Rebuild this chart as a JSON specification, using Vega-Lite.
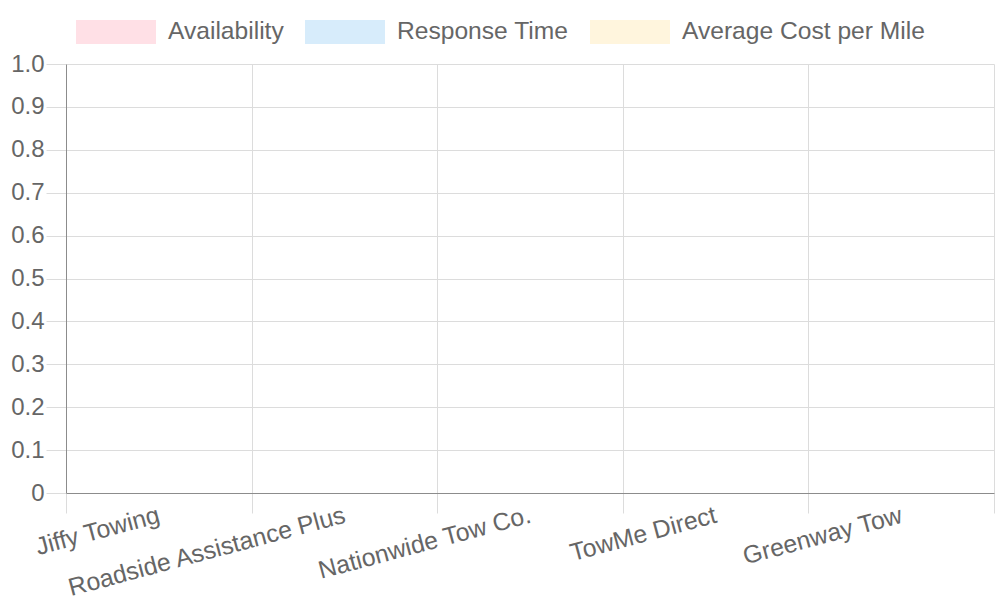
{
  "$schema": "https://vega.github.io/schema/vega-lite/v6.json",
  "autosize": "none",
  "width": 928,
  "height": 429,
  "padding": {"left": 66, "top": 64, "right": 6, "bottom": 107},
  "background": "white",
  "config": {
    "view": {"stroke": null},
    "font": "Liberation Sans"
  },
  "data": {
    "values": [
      {"provider": "Jiffy Towing", "metric": "Availability", "value": null},
      {"provider": "Jiffy Towing", "metric": "Response Time", "value": null},
      {"provider": "Jiffy Towing", "metric": "Average Cost per Mile", "value": null},
      {"provider": "Roadside Assistance Plus", "metric": "Availability", "value": null},
      {"provider": "Roadside Assistance Plus", "metric": "Response Time", "value": null},
      {"provider": "Roadside Assistance Plus", "metric": "Average Cost per Mile", "value": null},
      {"provider": "Nationwide Tow Co.", "metric": "Availability", "value": null},
      {"provider": "Nationwide Tow Co.", "metric": "Response Time", "value": null},
      {"provider": "Nationwide Tow Co.", "metric": "Average Cost per Mile", "value": null},
      {"provider": "TowMe Direct", "metric": "Availability", "value": null},
      {"provider": "TowMe Direct", "metric": "Response Time", "value": null},
      {"provider": "TowMe Direct", "metric": "Average Cost per Mile", "value": null},
      {"provider": "Greenway Tow", "metric": "Availability", "value": null},
      {"provider": "Greenway Tow", "metric": "Response Time", "value": null},
      {"provider": "Greenway Tow", "metric": "Average Cost per Mile", "value": null}
    ]
  },
  "mark": {"type": "bar", "strokeWidth": 0},
  "encoding": {
    "x": {
      "field": "provider",
      "type": "nominal",
      "sort": null,
      "scale": {
        "domain": ["Jiffy Towing", "Roadside Assistance Plus", "Nationwide Tow Co.", "TowMe Direct", "Greenway Tow"],
        "paddingInner": 0,
        "paddingOuter": 0
      },
      "axis": {
        "title": null,
        "tickBand": "extent",
        "grid": true,
        "gridColor": "#dcdcdc",
        "gridWidth": 1,
        "ticks": true,
        "tickSize": 20,
        "tickColor": "#dcdcdc",
        "domain": true,
        "domainColor": "#8c8c8c",
        "domainWidth": 1,
        "labelAngle": -15,
        "labelAlign": "right",
        "labelBaseline": "middle",
        "labelPadding": 2,
        "labelFontSize": 24.8,
        "labelColor": "#666666",
        "labelFont": "Liberation Sans",
        "labelLimit": 0,
        "labelOverlap": false
      }
    },
    "xOffset": {
      "field": "metric",
      "type": "nominal",
      "scale": {"domain": ["Availability", "Response Time", "Average Cost per Mile"]}
    },
    "y": {
      "field": "value",
      "type": "quantitative",
      "scale": {"domain": [0, 1], "nice": false, "zero": true},
      "axis": {
        "title": null,
        "values": [0, 0.1, 0.2, 0.3, 0.4, 0.5, 0.6, 0.7, 0.8, 0.9, 1.0],
        "labelExpr": "datum.value == 0 ? '0' : format(datum.value, '.1f')",
        "grid": true,
        "gridColor": "#dcdcdc",
        "ticks": true,
        "tickSize": 20,
        "tickColor": "#dcdcdc",
        "domain": true,
        "domainColor": "#8c8c8c",
        "domainWidth": 1,
        "labelPadding": 2,
        "labelFontSize": 24,
        "labelColor": "#666666",
        "labelFont": "Liberation Sans"
      }
    },
    "color": {
      "field": "metric",
      "type": "nominal",
      "scale": {
        "domain": ["Availability", "Response Time", "Average Cost per Mile"],
        "range": ["#ffe0e6", "#d7ecfb", "#fff5dd"]
      },
      "legend": {
        "title": null,
        "orient": "none",
        "direction": "horizontal",
        "legendX": 10,
        "legendY": -44,
        "symbolType": "M-1,-0.3H1V0.3H-1Z",
        "symbolSize": 6400,
        "symbolStrokeWidth": 0,
        "symbolOpacity": 1,
        "clipHeight": 24,
        "labelOffset": 12,
        "columnPadding": 21,
        "labelFontSize": 24.6,
        "labelColor": "#666666",
        "labelFont": "Liberation Sans",
        "labelLimit": 0
      }
    }
  }
}
